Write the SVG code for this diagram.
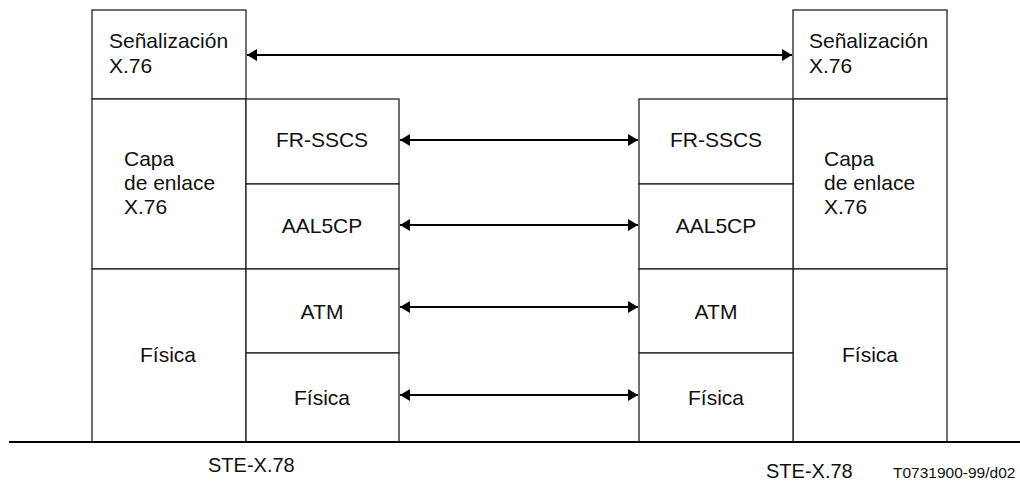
<svg xmlns="http://www.w3.org/2000/svg" width="1020" height="481" viewBox="0 0 1020 481">
<style>
.box{fill:#fff;stroke:#222;stroke-width:1.3}
.t{font-family:"Liberation Sans",Arial,sans-serif;font-size:21px;fill:#111}
.c{text-anchor:middle}
.conn{stroke:#000;stroke-width:2;fill:none;marker-start:url(#ah);marker-end:url(#ah)}
</style>
<defs>
<marker id="ah" viewBox="0 0 10 12" refX="10" refY="6" markerWidth="5" markerHeight="6" orient="auto-start-reverse" markerUnits="strokeWidth">
<path d="M0,0 L10,6 L0,12 z" fill="#000"/>
</marker>
</defs>
<rect width="1020" height="481" fill="#fff"/>
<g id="left-senal"><rect class="box" x="92" y="10" width="154" height="89"/><text class="t" x="109" y="48">Señalización</text><text class="t" x="109" y="73">X.76</text></g>
<g id="left-capa"><rect class="box" x="92" y="99" width="154" height="170"/><text class="t" x="124" y="166">Capa</text><text class="t" x="124" y="190">de enlace</text><text class="t" x="124" y="214">X.76</text></g>
<g id="left-fisica"><rect class="box" x="92" y="269" width="154" height="173"/><text class="t c" x="168" y="362">Física</text></g>
<g id="left-frsscs"><rect class="box" x="246" y="99" width="153" height="85"/><text class="t c" x="322" y="147">FR-SSCS</text></g>
<g id="left-aal5cp"><rect class="box" x="246" y="184" width="153" height="85"/><text class="t c" x="322" y="233">AAL5CP</text></g>
<g id="left-atm"><rect class="box" x="246" y="269" width="153" height="84"/><text class="t c" x="322" y="319">ATM</text></g>
<g id="left-fis2"><rect class="box" x="246" y="353" width="153" height="89"/><text class="t c" x="322" y="405">Física</text></g>
<g id="right-senal"><rect class="box" x="793" y="10" width="154" height="89"/><text class="t" x="809" y="48">Señalización</text><text class="t" x="809" y="73">X.76</text></g>
<g id="right-capa"><rect class="box" x="793" y="99" width="154" height="170"/><text class="t" x="824" y="166">Capa</text><text class="t" x="824" y="190">de enlace</text><text class="t" x="824" y="214">X.76</text></g>
<g id="right-fisica"><rect class="box" x="793" y="269" width="154" height="173"/><text class="t c" x="870" y="362">Física</text></g>
<g id="right-frsscs"><rect class="box" x="639" y="99" width="154" height="85"/><text class="t c" x="716" y="147">FR-SSCS</text></g>
<g id="right-aal5cp"><rect class="box" x="639" y="184" width="154" height="85"/><text class="t c" x="716" y="233">AAL5CP</text></g>
<g id="right-atm"><rect class="box" x="639" y="269" width="154" height="84"/><text class="t c" x="716" y="319">ATM</text></g>
<g id="right-fis2"><rect class="box" x="639" y="353" width="154" height="89"/><text class="t c" x="716" y="405">Física</text></g>
<g id="connectors">
<line class="conn" x1="247" y1="55" x2="792" y2="55"/>
<line class="conn" x1="400" y1="140" x2="638" y2="140"/>
<line class="conn" x1="400" y1="225" x2="638" y2="225"/>
<line class="conn" x1="400" y1="307" x2="638" y2="307"/>
<line class="conn" x1="400" y1="395" x2="638" y2="395"/>
</g>
<line x1="9" y1="442" x2="1020" y2="442" stroke="#000" stroke-width="2"/>
<text class="t" x="208" y="472" style="font-size:20px">STE-X.78</text>
<text class="t" x="766" y="478" style="font-size:20px">STE-X.78</text>
<text class="t" x="893" y="478" style="font-size:15.5px">T0731900-99/d02</text>
</svg>
